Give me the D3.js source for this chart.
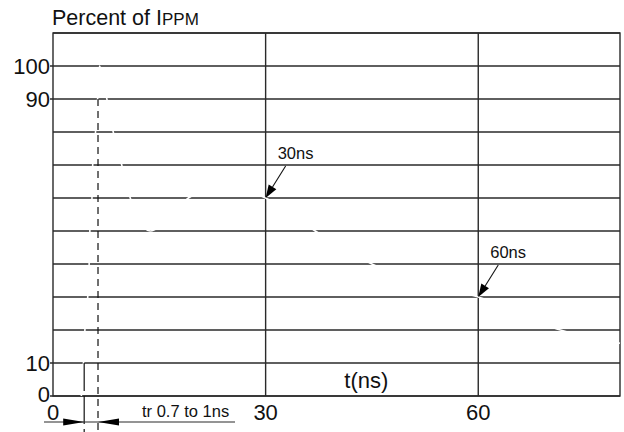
<!DOCTYPE html>
<html><head><meta charset="utf-8">
<script src="https://cdn.jsdelivr.net/npm/d3@7"></script>
<style>
html,body{margin:0;padding:0;background:#fff;}
svg{display:block;font-family:"Liberation Sans",Arial,sans-serif;}
</style></head>
<body>
<svg id="c" width="624" height="432"></svg>
<script>
// ---- data ----
const yGrid = [0,10,20,30,40,50,60,70,80,90,100,110];
const yTickLabels = [0,10,90,100];
const xGrid = [30,60];
const xTickLabels = [0,30,60];
const waveT   = [4.0,4.3,4.5,4.9,5.1,5.2,5.5,5.6,6.0,6.3,6.55,6.9,7.6,8.5,9.7,10.9,12.0,13.7,15.5,19.1,24.0,30.0,37.0,45.0,52.0,60.0,71.6,80.0];
const wavePct = [0,10,20,30,40,50,60,70,80,90,100,98,90,80,70,60,54,50,52,60,63.5,60,50,40,34,30,20,16];
const annotT = [30,60];
const annotPct = [60,30];
const annotLabels = ["30ns","60ns"];
const trStartT = 4.4, trStartPct = 10;
const trEndT = 6.35, trEndPct = 90;
const trLabel = "tr 0.7 to 1ns";

const svg = d3.select("#c");
const x = d3.scaleLinear().domain([0,80]).range([53,620]);
const y = d3.scaleLinear().domain([0,110]).range([396,33]);
const ink = "#2a2a2a";

// grid
svg.append("g").selectAll("line").data(yGrid).join("line")
  .attr("x1", d => yTickLabels.includes(d) ? x(0)-3 : x(0)).attr("x2", x(80))
  .attr("y1", d => y(d)).attr("y2", d => y(d))
  .attr("stroke", ink).attr("stroke-width", 1.4);
svg.append("g").selectAll("line").data(xGrid).join("line")
  .attr("x1", d => x(d)).attr("x2", d => x(d))
  .attr("y1", y(0)).attr("y2", y(110))
  .attr("stroke", ink).attr("stroke-width", 1.4);
svg.append("rect").attr("x", x(0)).attr("y", y(110))
  .attr("width", x(80)-x(0)).attr("height", y(0)-y(110))
  .attr("fill","none").attr("stroke", ink).attr("stroke-width", 1.4);

// white waveform
const pts = waveT.map((t,i)=>[t,wavePct[i]]);
svg.append("path").datum(pts)
  .attr("d", d3.line().x(d=>x(d[0])).y(d=>y(d[1])).curve(d3.curveMonotoneX))
  .attr("fill","none").attr("stroke","#fff").attr("stroke-width",1.6);

// y labels
svg.append("g").selectAll("text").data(yTickLabels).join("text")
  .attr("x", x(0)-3).attr("y", d => y(d)).attr("dy", d => d===0 ? "0.28em" : "0.36em")
  .attr("text-anchor","end").attr("font-size",22).attr("fill","#111")
  .text(d=>d);
// x labels
svg.append("g").selectAll("text").data(xTickLabels).join("text")
  .attr("x", d=>x(d)).attr("y", 420)
  .attr("text-anchor","middle").attr("font-size",22).attr("fill","#111")
  .text(d=>d);
// axis title
svg.append("text").attr("x", x(44.2)).attr("y", 388)
  .attr("text-anchor","middle").attr("font-size",22).attr("fill","#111").text("t(ns)");
const title = svg.append("text").attr("x", 52).attr("y", 25).attr("fill","#111");
title.append("tspan").attr("font-size",21.5).text("Percent of I");
title.append("tspan").attr("font-size",17).text("PPM");

// dashed lines
svg.append("line").attr("x1", x(trEndT)).attr("x2", x(trEndT))
  .attr("y1", y(trEndPct)).attr("y2", 432)
  .attr("stroke","#111").attr("stroke-width",1.2).attr("stroke-dasharray","7,5");
svg.append("line").attr("x1", x(trStartT)).attr("x2", x(trStartT))
  .attr("y1", y(trStartPct)).attr("y2", 432)
  .attr("stroke","#111").attr("stroke-width",1.2).attr("stroke-dasharray","28,5");

// dimension line
const dimY = 422;
svg.append("line").attr("x1",44).attr("x2",235).attr("y1",dimY).attr("y2",dimY)
  .attr("stroke",ink).attr("stroke-width",1.2);
function headH(tipX, dir){ // dir: +1 pointing right
  const L=21, W=3.5;
  return `M${tipX},${dimY} L${tipX-dir*L},${dimY-W} L${tipX-dir*L},${dimY+W} Z`;
}
svg.append("path").attr("d", headH(x(trStartT), 1)).attr("fill","#000");
svg.append("path").attr("d", headH(x(trEndT), -1)).attr("fill","#000");
svg.append("text").attr("x",142).attr("y",417).attr("font-size",16.5).attr("fill","#111").text(trLabel);

// annotations
annotT.forEach((t,i)=>{
  const tx = x(t), ty = y(annotPct[i]);
  const sx = tx+20, sy = ty-32;
  const ang = Math.atan2(ty-sy, tx-sx);
  const L=13, W=4.5;
  const bx = tx - L*Math.cos(ang), by = ty - L*Math.sin(ang);
  svg.append("line").attr("x1",sx).attr("y1",sy).attr("x2",bx).attr("y2",by)
    .attr("stroke","#111").attr("stroke-width",1.1);
  const px = -Math.sin(ang)*W, py = Math.cos(ang)*W;
  svg.append("path").attr("d",`M${tx},${ty} L${bx+px},${by+py} L${bx-px},${by-py} Z`).attr("fill","#000");
  svg.append("text").attr("x", tx+12).attr("y", sy-7).attr("font-size",16.5).attr("fill","#111").text(annotLabels[i]);
});
</script>
</body></html>
